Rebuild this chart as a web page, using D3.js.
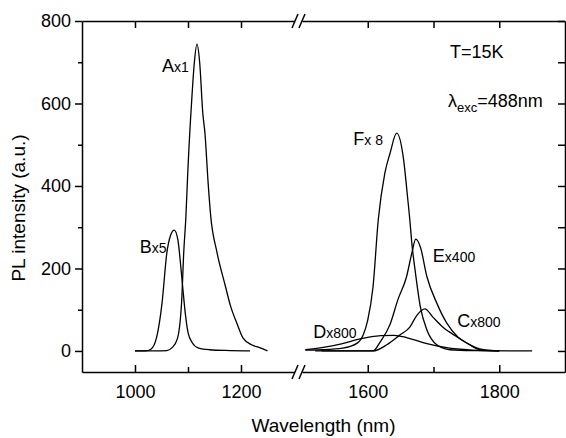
<!DOCTYPE html>
<html>
<head>
<meta charset="utf-8">
<script src="https://cdn.jsdelivr.net/npm/d3@7"></script>
<style>
  body { margin: 0; background: #fff; }
  svg { font-family: "Liberation Sans", Arial, sans-serif; }
  .axis path, .axis line { stroke: #000; stroke-width: 1.5; }
  .axis text { font-size: 18px; fill: #000; }
  .spec { fill: none; stroke: #000; stroke-width: 1.3; }
</style>
</head>
<body>
<script>
// Spectra: [wavelength nm, PL intensity a.u.]
const specA = [[1000,0],[1040,0],[1060,1],[1070,8],[1080,30],[1088,120],[1092,240],[1096,325],[1100,445],
  [1107,608],[1112,700],[1117,744],[1122,700],[1128,575],[1132,528],[1138,407],[1143,325],[1154,243],
  [1170,160],[1180,110],[1192,68],[1204,31],[1220,15],[1235,8],[1250,0]];
const specB = [[1000,0],[1020,0],[1030,4],[1041,34],[1051,116],[1060,237],[1067,280],[1074,293],[1081,269],
  [1086,210],[1090,155],[1095,90],[1100,45],[1108,20],[1120,7],[1140,3],[1180,1],[1217,0]];
const specF = [[1505,2],[1530,3],[1562,7],[1584,19],[1593,39],[1600,75],[1608,155],[1616,318],[1626,431],
  [1634,480],[1644,528],[1654,470],[1661,366],[1664,318],[1667,262],[1672,196],[1680,107],[1690,51],
  [1705,15],[1725,3],[1760,1],[1850,0]];
const specE = [[1520,0],[1608,0],[1619,22],[1634,65],[1646,125],[1659,180],[1667,237],[1673,271],[1680,252],
  [1690,180],[1705,116],[1720,68],[1737,34],[1750,20],[1776,3],[1800,0]];
const specC = [[1530,0],[1608,0],[1629,15],[1649,39],[1664,58],[1675,87],[1687,102],[1699,82],[1714,58],
  [1736,34],[1750,20],[1771,3],[1800,0]];
const specD = [[1505,3],[1530,8],[1560,17],[1590,30],[1620,37],[1640,38],[1660,32],[1690,18],[1720,8],
  [1760,2],[1800,0]];

const yTicks = [0, 200, 400, 600, 800];
const yMinor = [100, 300, 500, 700];
const xTicksL = [1000, 1200], xMinorL = [1100];
const xTicksR = [1600, 1800], xMinorR = [1700];

// peak labels: [letter, factor, wavelength, intensity]
const peakLabels = [["A","x1",1051,676],["B","x5",1009,238],["F","x 8",1578,500],
  ["E","x400",1699,216],["C","x800",1736,58],["D","x800",1517,32]];

const margin = { top: 21, right: 1, bottom: 66, left: 82 };
const width = 566 - margin.left - margin.right;
const height = 438 - margin.top - margin.bottom;

const svg = d3.select("body").append("svg")
  .attr("width", 566).attr("height", 438)
  .append("g")
  .attr("transform", `translate(${margin.left}, ${margin.top})`);

// broken x axis: two segments
const xL = d3.scaleLinear().domain([900, 1300]).range([0, 212]);
const xR = d3.scaleLinear().domain([1500, 1900]).range([220, width]);
const y = d3.scaleLinear().domain([-51, 800]).range([height, 0]);
const fmt = d3.format("d");

// bottom axes (ticks inward) and top axes
[[xL, xTicksL, xMinorL], [xR, xTicksR, xMinorR]].forEach(([sc, maj, min]) => {
  svg.append("g").attr("class", "axis").attr("transform", `translate(0, ${height})`)
    .call(d3.axisBottom(sc).tickValues(maj).tickSizeInner(-7).tickSizeOuter(0).tickPadding(13).tickFormat(fmt));
  svg.append("g").attr("class", "axis").attr("transform", `translate(0, ${height})`)
    .call(d3.axisBottom(sc).tickValues(min).tickSizeInner(-5).tickSizeOuter(0).tickFormat(""))
    .select(".domain").remove();
  svg.append("g").attr("class", "axis")
    .call(d3.axisBottom(sc).tickValues(maj.concat(min)).tickSizeInner(7).tickSizeOuter(0).tickFormat(""));
});

// left axis (ticks outward), right axis (ticks inward)
svg.append("g").attr("class", "axis")
  .call(d3.axisLeft(y).tickValues(yTicks).tickSizeInner(7).tickSizeOuter(0).tickPadding(4).tickFormat(fmt));
svg.append("g").attr("class", "axis")
  .call(d3.axisLeft(y).tickValues(yMinor).tickSizeInner(4).tickSizeOuter(0).tickFormat(""))
  .select(".domain").remove();
svg.append("g").attr("class", "axis").attr("transform", `translate(${width}, 0)`)
  .call(d3.axisLeft(y).tickValues(yTicks.concat(yMinor)).tickSizeInner(7).tickSizeOuter(0).tickFormat(""));

// break marks
[0, height].forEach(yy => {
  [213, 220].forEach(xx => {
    svg.append("line")
      .attr("x1", xx - 3).attr("y1", yy + 7)
      .attr("x2", xx + 3).attr("y2", yy - 7)
      .attr("stroke", "#000").attr("stroke-width", 1.5);
  });
});

// spectra
const lineL = d3.line().x(d => xL(d[0])).y(d => y(d[1])).curve(d3.curveMonotoneX);
const lineR = d3.line().x(d => xR(d[0])).y(d => y(d[1])).curve(d3.curveMonotoneX);
[specA, specB].forEach(s => svg.append("path").attr("class", "spec").attr("d", lineL(s)));
[specF, specE, specC, specD].forEach(s => svg.append("path").attr("class", "spec").attr("d", lineR(s)));

// labels
peakLabels.forEach(([l, f, wl, v]) => {
  const sc = wl < 1400 ? xL : xR;
  const t = svg.append("text").attr("x", sc(wl)).attr("y", y(v)).attr("font-size", 18);
  t.append("tspan").text(l);
  t.append("tspan").attr("font-size", 14).text(f);
});

svg.append("text").attr("x", xR(1725)).attr("y", y(710)).attr("font-size", 18).text("T=15K");
const lam = svg.append("text").attr("x", xR(1722)).attr("y", y(592)).attr("font-size", 18);
lam.append("tspan").text("λ");
lam.append("tspan").attr("font-size", 13).attr("dy", 5).text("exc");
lam.append("tspan").attr("dy", -5).text("=488nm");

// axis titles
svg.append("text").attr("x", width / 2).attr("y", height + 60)
  .attr("text-anchor", "middle").attr("font-size", 19).text("Wavelength (nm)");
svg.append("text")
  .attr("transform", "translate(-57, 187) rotate(-90)")
  .attr("text-anchor", "middle").attr("font-size", 19)
  .text("PL intensity (a.u.)");
</script>
</body>
</html>
